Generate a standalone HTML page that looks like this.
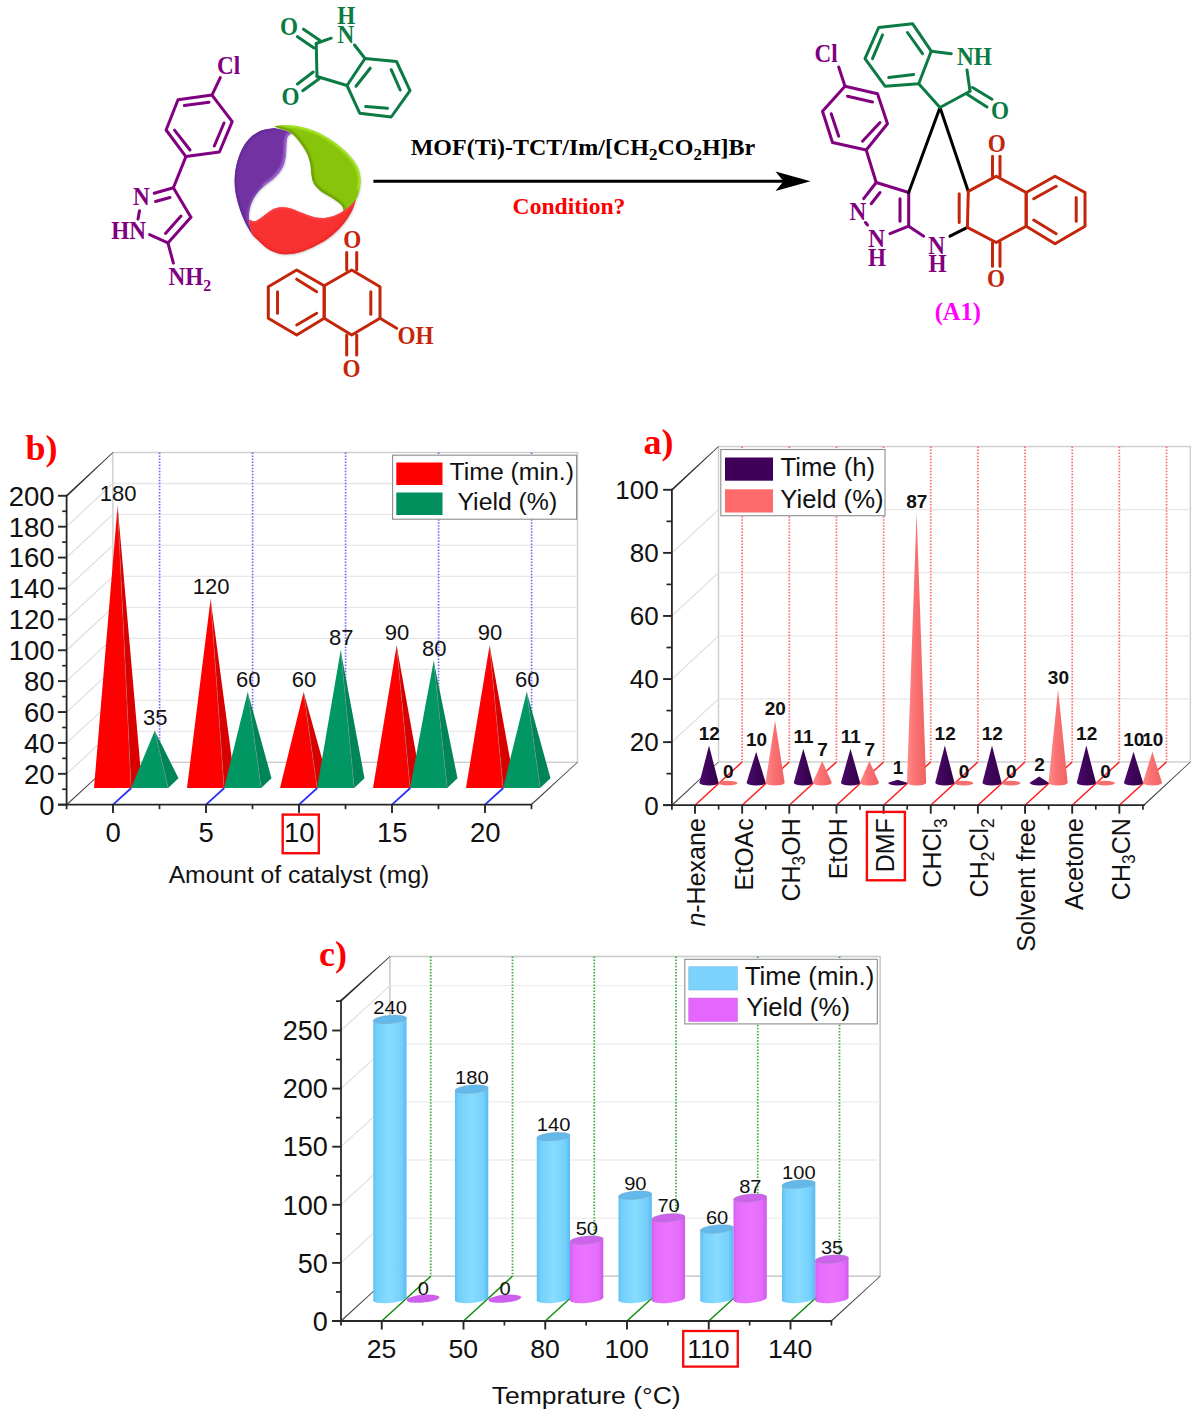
<!DOCTYPE html>
<html><head><meta charset="utf-8"><title>Figure</title>
<style>
html,body{margin:0;padding:0;background:#fff;}
body{width:1200px;height:1416px;overflow:hidden;font-family:"Liberation Sans",sans-serif;}
svg{display:block;}
</style></head><body>
<svg width="1200" height="1416" viewBox="0 0 1200 1416">
<rect width="1200" height="1416" fill="#fff"/>
<g id="scheme">
<polygon points="212.00,95.10 178.00,99.70 166.10,130.00 185.90,156.60 219.40,152.00 232.20,121.70" fill="none" stroke="#800080" stroke-width="3.0" stroke-linejoin="round" stroke-linecap="round" />
<line x1="184.30" y1="105.50" x2="209.00" y2="102.20" stroke="#800080" stroke-width="3.0" stroke-linecap="round"/>
<line x1="174.50" y1="130.20" x2="190.00" y2="150.00" stroke="#800080" stroke-width="3.0" stroke-linecap="round"/>
<line x1="224.00" y1="123.00" x2="214.30" y2="146.00" stroke="#800080" stroke-width="3.0" stroke-linecap="round"/>
<line x1="212.00" y1="95.10" x2="220.30" y2="77.60" stroke="#800080" stroke-width="3.0" stroke-linecap="round"/>
<line x1="185.90" y1="156.60" x2="173.40" y2="187.80" stroke="#800080" stroke-width="3.0" stroke-linecap="round"/>
<line x1="173.40" y1="187.80" x2="190.90" y2="217.20" stroke="#800080" stroke-width="3.0" stroke-linecap="round"/>
<line x1="190.90" y1="217.20" x2="167.90" y2="242.90" stroke="#800080" stroke-width="3.0" stroke-linecap="round"/>
<line x1="167.90" y1="242.90" x2="149.60" y2="234.60" stroke="#800080" stroke-width="3.0" stroke-linecap="round"/>
<line x1="173.40" y1="187.80" x2="154.20" y2="193.30" stroke="#800080" stroke-width="3.0" stroke-linecap="round"/>
<line x1="155.50" y1="201.50" x2="170.00" y2="197.50" stroke="#800080" stroke-width="3.0" stroke-linecap="round"/>
<line x1="181.00" y1="216.00" x2="165.50" y2="233.50" stroke="#800080" stroke-width="3.0" stroke-linecap="round"/>
<line x1="139.50" y1="210.80" x2="138.00" y2="219.00" stroke="#800080" stroke-width="3.0" stroke-linecap="round"/>
<line x1="167.90" y1="242.90" x2="173.40" y2="263.10" stroke="#800080" stroke-width="3.0" stroke-linecap="round"/>
<text x="0.00" y="0.00" font-family="Liberation Serif, serif" font-size="24.8" font-weight="bold" fill="#800080" text-anchor="start"  transform="translate(217.00 74.00) scale(0.935 1)">Cl</text>
<text x="0.00" y="0.00" font-family="Liberation Serif, serif" font-size="24.8" font-weight="bold" fill="#800080" text-anchor="start"  transform="translate(133.00 205.30) scale(0.935 1)">N</text>
<text x="0.00" y="0.00" font-family="Liberation Serif, serif" font-size="24.8" font-weight="bold" fill="#800080" text-anchor="start"  transform="translate(111.30 239.20) scale(0.935 1)">HN</text>
<text x="0.00" y="0.00" font-family="Liberation Serif, serif" font-size="24.8" font-weight="bold" fill="#800080" text-anchor="start"  transform="translate(168.50 284.50) scale(0.935 1)">NH<tspan font-size="17" dy="6">2</tspan></text>
<polygon points="365.00,58.50 396.50,61.50 410.00,90.70 391.20,117.00 359.70,113.20 347.00,85.50" fill="none" stroke="#0B7A43" stroke-width="3.0" stroke-linejoin="round" stroke-linecap="round" />
<line x1="370.20" y1="68.20" x2="356.00" y2="86.20" stroke="#0B7A43" stroke-width="3.0" stroke-linecap="round"/>
<line x1="391.20" y1="69.70" x2="400.20" y2="90.00" stroke="#0B7A43" stroke-width="3.0" stroke-linecap="round"/>
<line x1="365.70" y1="106.50" x2="387.50" y2="108.30" stroke="#0B7A43" stroke-width="3.0" stroke-linecap="round"/>
<line x1="347.00" y1="85.50" x2="317.00" y2="76.50" stroke="#0B7A43" stroke-width="3.0" stroke-linecap="round"/>
<line x1="317.00" y1="76.50" x2="316.20" y2="43.50" stroke="#0B7A43" stroke-width="3.0" stroke-linecap="round"/>
<line x1="316.20" y1="43.50" x2="331.20" y2="38.20" stroke="#0B7A43" stroke-width="3.0" stroke-linecap="round"/>
<line x1="365.00" y1="58.50" x2="354.50" y2="45.00" stroke="#0B7A43" stroke-width="3.0" stroke-linecap="round"/>
<line x1="320.00" y1="40.50" x2="303.50" y2="29.20" stroke="#0B7A43" stroke-width="3.0" stroke-linecap="round"/>
<line x1="314.00" y1="48.00" x2="297.50" y2="36.70" stroke="#0B7A43" stroke-width="3.0" stroke-linecap="round"/>
<line x1="313.20" y1="72.00" x2="297.50" y2="84.00" stroke="#0B7A43" stroke-width="3.0" stroke-linecap="round"/>
<line x1="319.20" y1="78.70" x2="302.70" y2="90.70" stroke="#0B7A43" stroke-width="3.0" stroke-linecap="round"/>
<text x="0.00" y="0.00" font-family="Liberation Serif, serif" font-size="24.8" font-weight="bold" fill="#0B7A43" text-anchor="start"  transform="translate(337.50 42.50) scale(0.935 1)">N</text>
<text x="0.00" y="0.00" font-family="Liberation Serif, serif" font-size="24.8" font-weight="bold" fill="#0B7A43" text-anchor="start"  transform="translate(337.30 23.80) scale(0.935 1)">H</text>
<text x="0.00" y="0.00" font-family="Liberation Serif, serif" font-size="24.8" font-weight="bold" fill="#0B7A43" text-anchor="start"  transform="translate(280.00 35.00) scale(0.935 1)">O</text>
<text x="0.00" y="0.00" font-family="Liberation Serif, serif" font-size="24.8" font-weight="bold" fill="#0B7A43" text-anchor="start"  transform="translate(281.50 105.00) scale(0.935 1)">O</text>
<polygon points="296.70,270.00 268.30,286.70 268.30,318.30 296.70,335.00 324.20,318.30 324.20,285.80" fill="none" stroke="#C4260C" stroke-width="3.0" stroke-linejoin="round" stroke-linecap="round" />
<polygon points="324.20,285.80 351.70,270.00 380.00,286.70 380.00,318.30 351.70,335.00 324.20,318.30" fill="none" stroke="#C4260C" stroke-width="3.0" stroke-linejoin="round" stroke-linecap="round" />
<line x1="296.70" y1="279.20" x2="316.70" y2="291.70" stroke="#C4260C" stroke-width="3.0" stroke-linecap="round"/>
<line x1="277.50" y1="291.70" x2="277.50" y2="313.30" stroke="#C4260C" stroke-width="3.0" stroke-linecap="round"/>
<line x1="296.70" y1="325.00" x2="316.70" y2="313.30" stroke="#C4260C" stroke-width="3.0" stroke-linecap="round"/>
<line x1="370.80" y1="291.70" x2="370.80" y2="314.20" stroke="#C4260C" stroke-width="3.0" stroke-linecap="round"/>
<line x1="346.70" y1="252.50" x2="346.70" y2="270.00" stroke="#C4260C" stroke-width="3.0" stroke-linecap="round"/>
<line x1="356.70" y1="252.50" x2="356.70" y2="270.00" stroke="#C4260C" stroke-width="3.0" stroke-linecap="round"/>
<line x1="346.70" y1="335.00" x2="346.70" y2="355.00" stroke="#C4260C" stroke-width="3.0" stroke-linecap="round"/>
<line x1="356.70" y1="335.00" x2="356.70" y2="355.00" stroke="#C4260C" stroke-width="3.0" stroke-linecap="round"/>
<line x1="380.00" y1="318.30" x2="396.70" y2="328.30" stroke="#C4260C" stroke-width="3.0" stroke-linecap="round"/>
<text x="0.00" y="0.00" font-family="Liberation Serif, serif" font-size="24.8" font-weight="bold" fill="#C4260C" text-anchor="start"  transform="translate(343.20 248.30) scale(0.935 1)">O</text>
<text x="0.00" y="0.00" font-family="Liberation Serif, serif" font-size="24.8" font-weight="bold" fill="#C4260C" text-anchor="start"  transform="translate(342.60 376.50) scale(0.935 1)">O</text>
<text x="0.00" y="0.00" font-family="Liberation Serif, serif" font-size="24.8" font-weight="bold" fill="#C4260C" text-anchor="start"  transform="translate(397.50 344.00) scale(0.935 1)">OH</text>
<line x1="373.40" y1="181.30" x2="784.00" y2="181.30" stroke="#000" stroke-width="3" />
<polygon points="775.50,171.50 810.50,181.30 775.50,191.10 783.50,181.30" fill="#000" />
<text x="583.00" y="155.30" font-family="Liberation Serif, serif" font-size="24" font-weight="bold" fill="#000" text-anchor="middle" >MOF(Ti)-TCT/Im/[CH<tspan font-size="17" dy="5">2</tspan><tspan dy="-5">CO</tspan><tspan font-size="17" dy="5">2</tspan><tspan dy="-5">H]Br</tspan></text>
<text x="569.00" y="213.80" font-family="Liberation Serif, serif" font-size="23.6" font-weight="bold" fill="#FF0000" text-anchor="middle" >Condition?</text>
<defs>
<filter id="lsh" x="-10%" y="-10%" width="120%" height="120%"><feGaussianBlur stdDeviation="0.9"/></filter>
<filter id="lb1" x="-20%" y="-20%" width="140%" height="140%"><feGaussianBlur stdDeviation="1.0"/></filter>
<clipPath id="cpp"><path d="M274.1,127.9 C275.6,128.2 279.9,128.8 282.8,129.7 C285.7,130.6 290.1,132.6 291.6,133.2 C290.9,133.8 288.4,134.8 287.5,136.7 C286.6,138.6 286.6,141.7 286.3,144.8 C286.0,147.9 286.4,151.6 285.8,155.3 C285.2,159.0 284.7,163.3 282.8,167.0 C280.9,170.7 278.0,174.2 274.7,177.5 C271.4,180.8 266.4,183.5 263.0,186.8 C259.6,190.1 256.5,193.6 254.3,197.3 C252.1,201.0 250.5,205.3 249.6,209.0 C248.7,212.7 248.9,216.4 249.0,219.5 C249.1,222.6 249.5,225.0 250.2,227.7 C250.9,230.4 252.6,234.5 253.1,235.8 C251.8,233.7 247.8,227.8 245.5,223.0 C243.2,218.2 240.8,212.5 239.1,206.7 C237.3,200.9 235.6,194.2 235.0,188.0 C234.4,181.8 234.6,175.3 235.6,169.3 C236.6,163.3 238.6,156.9 240.8,151.8 C243.0,146.8 245.7,142.5 249.0,139.0 C252.3,135.5 256.5,132.7 260.7,130.8 C264.9,129.0 271.9,128.4 274.1,127.9Z"/></clipPath><clipPath id="cpg"><path d="M274.1,126.4 C275.8,126.2 280.0,125.2 284.0,125.2 C288.0,125.2 292.8,125.2 298.0,126.2 C303.2,127.2 309.7,128.9 315.5,131.4 C321.3,133.9 327.6,137.5 333.0,141.3 C338.4,145.1 344.1,149.9 348.2,154.2 C352.3,158.5 355.5,162.9 357.5,167.0 C359.5,171.1 360.1,174.8 360.4,178.7 C360.7,182.6 360.1,186.8 359.3,190.3 C358.5,193.8 357.5,197.0 355.8,199.7 C354.1,202.4 351.4,204.8 349.3,206.7 C347.2,208.5 344.5,210.1 343.5,210.8 C343.2,209.9 343.6,207.6 341.8,205.5 C340.1,203.4 336.4,200.8 333.0,198.5 C329.6,196.2 324.5,194.0 321.3,191.5 C318.1,189.0 315.5,186.2 313.8,183.3 C312.1,180.4 312.0,177.3 311.4,174.0 C310.8,170.7 311.2,167.2 310.3,163.5 C309.4,159.8 308.1,155.5 306.2,151.8 C304.3,148.1 301.6,144.4 299.2,141.3 C296.8,138.2 294.3,135.2 291.6,133.2 C288.9,131.2 285.9,130.4 283.0,129.3 C280.1,128.2 275.6,126.9 274.1,126.4Z"/></clipPath><clipPath id="cpr"><path d="M249.0,219.5 C250.0,219.8 252.7,221.7 254.8,221.3 C256.9,220.9 259.1,219.0 261.8,217.2 C264.5,215.3 268.1,211.8 271.2,210.2 C274.3,208.5 277.2,207.6 280.5,207.3 C283.8,207.0 287.3,207.4 291.0,208.4 C294.7,209.4 298.8,211.6 302.7,213.1 C306.6,214.6 310.4,216.4 314.3,217.2 C318.2,218.0 322.3,218.2 326.0,217.8 C329.7,217.4 333.6,216.0 336.5,214.8 C339.4,213.6 341.2,212.4 343.5,210.8 C345.8,209.2 348.4,207.3 350.5,205.5 C352.6,203.7 354.9,200.7 355.8,199.7 C355.1,201.6 353.9,207.0 351.7,211.3 C349.4,215.6 346.2,220.8 342.3,225.3 C338.4,229.8 333.4,234.5 328.3,238.2 C323.2,241.9 317.4,245.0 312.0,247.5 C306.6,250.0 300.9,252.2 295.7,253.3 C290.4,254.4 285.2,254.7 280.5,253.9 C275.8,253.1 271.4,250.9 267.7,248.7 C264.0,246.5 260.7,242.7 258.3,240.5 C255.9,238.3 254.0,236.6 253.1,235.8 C252.6,234.5 250.9,230.4 250.2,227.7 C249.5,225.0 249.2,220.9 249.0,219.5Z"/></clipPath></defs>
<g>
<g opacity="0.28" filter="url(#lsh)" transform="translate(0.6,0.9)"><path d="M274.1,127.9 C275.6,128.2 279.9,128.8 282.8,129.7 C285.7,130.6 290.1,132.6 291.6,133.2 C290.9,133.8 288.4,134.8 287.5,136.7 C286.6,138.6 286.6,141.7 286.3,144.8 C286.0,147.9 286.4,151.6 285.8,155.3 C285.2,159.0 284.7,163.3 282.8,167.0 C280.9,170.7 278.0,174.2 274.7,177.5 C271.4,180.8 266.4,183.5 263.0,186.8 C259.6,190.1 256.5,193.6 254.3,197.3 C252.1,201.0 250.5,205.3 249.6,209.0 C248.7,212.7 248.9,216.4 249.0,219.5 C249.1,222.6 249.5,225.0 250.2,227.7 C250.9,230.4 252.6,234.5 253.1,235.8 C251.8,233.7 247.8,227.8 245.5,223.0 C243.2,218.2 240.8,212.5 239.1,206.7 C237.3,200.9 235.6,194.2 235.0,188.0 C234.4,181.8 234.6,175.3 235.6,169.3 C236.6,163.3 238.6,156.9 240.8,151.8 C243.0,146.8 245.7,142.5 249.0,139.0 C252.3,135.5 256.5,132.7 260.7,130.8 C264.9,129.0 271.9,128.4 274.1,127.9Z" fill="#303030"/><path d="M274.1,126.4 C275.8,126.2 280.0,125.2 284.0,125.2 C288.0,125.2 292.8,125.2 298.0,126.2 C303.2,127.2 309.7,128.9 315.5,131.4 C321.3,133.9 327.6,137.5 333.0,141.3 C338.4,145.1 344.1,149.9 348.2,154.2 C352.3,158.5 355.5,162.9 357.5,167.0 C359.5,171.1 360.1,174.8 360.4,178.7 C360.7,182.6 360.1,186.8 359.3,190.3 C358.5,193.8 357.5,197.0 355.8,199.7 C354.1,202.4 351.4,204.8 349.3,206.7 C347.2,208.5 344.5,210.1 343.5,210.8 C343.2,209.9 343.6,207.6 341.8,205.5 C340.1,203.4 336.4,200.8 333.0,198.5 C329.6,196.2 324.5,194.0 321.3,191.5 C318.1,189.0 315.5,186.2 313.8,183.3 C312.1,180.4 312.0,177.3 311.4,174.0 C310.8,170.7 311.2,167.2 310.3,163.5 C309.4,159.8 308.1,155.5 306.2,151.8 C304.3,148.1 301.6,144.4 299.2,141.3 C296.8,138.2 294.3,135.2 291.6,133.2 C288.9,131.2 285.9,130.4 283.0,129.3 C280.1,128.2 275.6,126.9 274.1,126.4Z" fill="#303030"/><path d="M249.0,219.5 C250.0,219.8 252.7,221.7 254.8,221.3 C256.9,220.9 259.1,219.0 261.8,217.2 C264.5,215.3 268.1,211.8 271.2,210.2 C274.3,208.5 277.2,207.6 280.5,207.3 C283.8,207.0 287.3,207.4 291.0,208.4 C294.7,209.4 298.8,211.6 302.7,213.1 C306.6,214.6 310.4,216.4 314.3,217.2 C318.2,218.0 322.3,218.2 326.0,217.8 C329.7,217.4 333.6,216.0 336.5,214.8 C339.4,213.6 341.2,212.4 343.5,210.8 C345.8,209.2 348.4,207.3 350.5,205.5 C352.6,203.7 354.9,200.7 355.8,199.7 C355.1,201.6 353.9,207.0 351.7,211.3 C349.4,215.6 346.2,220.8 342.3,225.3 C338.4,229.8 333.4,234.5 328.3,238.2 C323.2,241.9 317.4,245.0 312.0,247.5 C306.6,250.0 300.9,252.2 295.7,253.3 C290.4,254.4 285.2,254.7 280.5,253.9 C275.8,253.1 271.4,250.9 267.7,248.7 C264.0,246.5 260.7,242.7 258.3,240.5 C255.9,238.3 254.0,236.6 253.1,235.8 C252.6,234.5 250.9,230.4 250.2,227.7 C249.5,225.0 249.2,220.9 249.0,219.5Z" fill="#303030"/></g>
<path d="M274.1,127.9 C275.6,128.2 279.9,128.8 282.8,129.7 C285.7,130.6 290.1,132.6 291.6,133.2 C290.9,133.8 288.4,134.8 287.5,136.7 C286.6,138.6 286.6,141.7 286.3,144.8 C286.0,147.9 286.4,151.6 285.8,155.3 C285.2,159.0 284.7,163.3 282.8,167.0 C280.9,170.7 278.0,174.2 274.7,177.5 C271.4,180.8 266.4,183.5 263.0,186.8 C259.6,190.1 256.5,193.6 254.3,197.3 C252.1,201.0 250.5,205.3 249.6,209.0 C248.7,212.7 248.9,216.4 249.0,219.5 C249.1,222.6 249.5,225.0 250.2,227.7 C250.9,230.4 252.6,234.5 253.1,235.8 C251.8,233.7 247.8,227.8 245.5,223.0 C243.2,218.2 240.8,212.5 239.1,206.7 C237.3,200.9 235.6,194.2 235.0,188.0 C234.4,181.8 234.6,175.3 235.6,169.3 C236.6,163.3 238.6,156.9 240.8,151.8 C243.0,146.8 245.7,142.5 249.0,139.0 C252.3,135.5 256.5,132.7 260.7,130.8 C264.9,129.0 271.9,128.4 274.1,127.9Z" fill="#7232a2"/>
<g clip-path="url(#cpp)"><path d="M291.6,133.2 C290.9,133.8 288.4,134.8 287.5,136.7 C286.6,138.6 286.6,141.7 286.3,144.8 C286.0,147.9 286.4,151.6 285.8,155.3 C285.2,159.0 284.7,163.3 282.8,167.0 C280.9,170.7 278.0,174.2 274.7,177.5 C271.4,180.8 264.9,185.2 263.0,186.8" fill="none" stroke="#a068d6" stroke-width="4.5" filter="url(#lb1)"/><path d="M263.0,186.8 C261.6,188.6 256.5,193.6 254.3,197.3 C252.1,201.0 250.5,205.3 249.6,209.0 C248.7,212.7 248.9,216.4 249.0,219.5 C249.1,222.6 249.5,225.0 250.2,227.7 C250.9,230.4 252.6,234.5 253.1,235.8" fill="none" stroke="#8a50c0" stroke-width="3" filter="url(#lb1)"/><path d="M253.1,235.8 C251.8,233.7 247.8,227.8 245.5,223.0 C243.2,218.2 240.8,212.5 239.1,206.7 C237.3,200.9 235.6,194.2 235.0,188.0 C234.4,181.8 234.6,175.3 235.6,169.3 C236.6,163.3 238.6,156.9 240.8,151.8 C243.0,146.8 245.7,142.5 249.0,139.0 C252.3,135.5 256.5,132.7 260.7,130.8 C264.9,129.0 271.9,128.4 274.1,127.9" fill="none" stroke="#5e2590" stroke-width="3" filter="url(#lb1)"/></g>
<path d="M274.1,126.4 C275.8,126.2 280.0,125.2 284.0,125.2 C288.0,125.2 292.8,125.2 298.0,126.2 C303.2,127.2 309.7,128.9 315.5,131.4 C321.3,133.9 327.6,137.5 333.0,141.3 C338.4,145.1 344.1,149.9 348.2,154.2 C352.3,158.5 355.5,162.9 357.5,167.0 C359.5,171.1 360.1,174.8 360.4,178.7 C360.7,182.6 360.1,186.8 359.3,190.3 C358.5,193.8 357.5,197.0 355.8,199.7 C354.1,202.4 351.4,204.8 349.3,206.7 C347.2,208.5 344.5,210.1 343.5,210.8 C343.2,209.9 343.6,207.6 341.8,205.5 C340.1,203.4 336.4,200.8 333.0,198.5 C329.6,196.2 324.5,194.0 321.3,191.5 C318.1,189.0 315.5,186.2 313.8,183.3 C312.1,180.4 312.0,177.3 311.4,174.0 C310.8,170.7 311.2,167.2 310.3,163.5 C309.4,159.8 308.1,155.5 306.2,151.8 C304.3,148.1 301.6,144.4 299.2,141.3 C296.8,138.2 294.3,135.2 291.6,133.2 C288.9,131.2 285.9,130.4 283.0,129.3 C280.1,128.2 275.6,126.9 274.1,126.4Z" fill="#88c50a"/>
<g clip-path="url(#cpg)"><path d="M274.1,126.4 C275.8,126.2 280.0,125.2 284.0,125.2 C288.0,125.2 292.8,125.2 298.0,126.2 C303.2,127.2 309.7,128.9 315.5,131.4 C321.3,133.9 327.6,137.5 333.0,141.3 C338.4,145.1 344.1,149.9 348.2,154.2 C352.3,158.5 355.5,162.9 357.5,167.0 C359.5,171.1 360.1,174.8 360.4,178.7 C360.7,182.6 359.5,188.4 359.3,190.3" fill="none" stroke="#a8ea2a" stroke-width="4" filter="url(#lb1)"/><path d="M343.5,210.8 C343.2,209.9 343.6,207.6 341.8,205.5 C340.1,203.4 336.4,200.8 333.0,198.5 C329.6,196.2 324.5,194.0 321.3,191.5 C318.1,189.0 315.5,186.2 313.8,183.3 C312.1,180.4 312.0,177.3 311.4,174.0 C310.8,170.7 311.2,167.2 310.3,163.5 C309.4,159.8 308.1,155.5 306.2,151.8 C304.3,148.1 301.6,144.4 299.2,141.3 C296.8,138.2 294.3,135.2 291.6,133.2 C288.9,131.2 285.9,130.4 283.0,129.3 C280.1,128.2 275.6,126.9 274.1,126.4" fill="none" stroke="#6a9c04" stroke-width="4.5" filter="url(#lb1)"/></g>
<path d="M249.0,219.5 C250.0,219.8 252.7,221.7 254.8,221.3 C256.9,220.9 259.1,219.0 261.8,217.2 C264.5,215.3 268.1,211.8 271.2,210.2 C274.3,208.5 277.2,207.6 280.5,207.3 C283.8,207.0 287.3,207.4 291.0,208.4 C294.7,209.4 298.8,211.6 302.7,213.1 C306.6,214.6 310.4,216.4 314.3,217.2 C318.2,218.0 322.3,218.2 326.0,217.8 C329.7,217.4 333.6,216.0 336.5,214.8 C339.4,213.6 341.2,212.4 343.5,210.8 C345.8,209.2 348.4,207.3 350.5,205.5 C352.6,203.7 354.9,200.7 355.8,199.7 C355.1,201.6 353.9,207.0 351.7,211.3 C349.4,215.6 346.2,220.8 342.3,225.3 C338.4,229.8 333.4,234.5 328.3,238.2 C323.2,241.9 317.4,245.0 312.0,247.5 C306.6,250.0 300.9,252.2 295.7,253.3 C290.4,254.4 285.2,254.7 280.5,253.9 C275.8,253.1 271.4,250.9 267.7,248.7 C264.0,246.5 260.7,242.7 258.3,240.5 C255.9,238.3 254.0,236.6 253.1,235.8 C252.6,234.5 250.9,230.4 250.2,227.7 C249.5,225.0 249.2,220.9 249.0,219.5Z" fill="#f83131"/>
<g clip-path="url(#cpr)"><path d="M355.8,199.7 C355.1,201.6 353.9,207.0 351.7,211.3 C349.4,215.6 346.2,220.8 342.3,225.3 C338.4,229.8 333.4,234.5 328.3,238.2 C323.2,241.9 317.4,245.0 312.0,247.5 C306.6,250.0 300.9,252.2 295.7,253.3 C290.4,254.4 285.2,254.7 280.5,253.9 C275.8,253.1 271.4,250.9 267.7,248.7 C264.0,246.5 260.7,242.7 258.3,240.5 C255.9,238.3 254.0,236.6 253.1,235.8" fill="none" stroke="#e82626" stroke-width="3" filter="url(#lb1)"/><path d="M249.0,219.5 C250.0,219.8 252.7,221.7 254.8,221.3 C256.9,220.9 259.1,219.0 261.8,217.2 C264.5,215.3 268.1,211.8 271.2,210.2 C274.3,208.5 277.2,207.6 280.5,207.3 C283.8,207.0 287.3,207.4 291.0,208.4 C294.7,209.4 298.8,211.6 302.7,213.1 C306.6,214.6 310.4,216.4 314.3,217.2 C318.2,218.0 322.3,218.2 326.0,217.8 C329.7,217.4 333.6,216.0 336.5,214.8 C339.4,213.6 341.2,212.4 343.5,210.8 C345.8,209.2 348.4,207.3 350.5,205.5 C352.6,203.7 354.9,200.7 355.8,199.7" fill="none" stroke="#ff4a4a" stroke-width="2.5" filter="url(#lb1)"/></g>
</g>
</g>
<g id="product">
<polygon points="845.00,86.20 877.50,93.70 887.50,123.70 866.20,150.00 832.50,142.50 822.50,111.20" fill="none" stroke="#800080" stroke-width="3.0" stroke-linejoin="round" stroke-linecap="round" />
<line x1="847.50" y1="96.20" x2="872.50" y2="102.00" stroke="#800080" stroke-width="3.0" stroke-linecap="round"/>
<line x1="831.20" y1="113.70" x2="838.70" y2="136.20" stroke="#800080" stroke-width="3.0" stroke-linecap="round"/>
<line x1="880.00" y1="122.50" x2="862.50" y2="141.20" stroke="#800080" stroke-width="3.0" stroke-linecap="round"/>
<line x1="838.70" y1="67.00" x2="845.00" y2="86.20" stroke="#800080" stroke-width="3.0" stroke-linecap="round"/>
<line x1="866.20" y1="150.00" x2="876.20" y2="182.50" stroke="#800080" stroke-width="3.0" stroke-linecap="round"/>
<line x1="876.20" y1="182.50" x2="908.70" y2="192.50" stroke="#800080" stroke-width="3.0" stroke-linecap="round"/>
<line x1="908.70" y1="192.50" x2="908.70" y2="226.20" stroke="#800080" stroke-width="3.0" stroke-linecap="round"/>
<line x1="908.70" y1="226.20" x2="890.00" y2="233.70" stroke="#800080" stroke-width="3.0" stroke-linecap="round"/>
<line x1="876.20" y1="182.50" x2="863.70" y2="198.70" stroke="#800080" stroke-width="3.0" stroke-linecap="round"/>
<line x1="880.00" y1="192.50" x2="871.20" y2="203.70" stroke="#800080" stroke-width="3.0" stroke-linecap="round"/>
<line x1="900.00" y1="198.70" x2="900.00" y2="221.20" stroke="#800080" stroke-width="3.0" stroke-linecap="round"/>
<line x1="865.50" y1="222.50" x2="867.50" y2="225.00" stroke="#800080" stroke-width="3.0" stroke-linecap="round"/>
<line x1="908.70" y1="226.20" x2="923.70" y2="236.20" stroke="#800080" stroke-width="3.0" stroke-linecap="round"/>
<text x="0.00" y="0.00" font-family="Liberation Serif, serif" font-size="24.8" font-weight="bold" fill="#800080" text-anchor="start"  transform="translate(814.50 62.30) scale(0.935 1)">Cl</text>
<text x="0.00" y="0.00" font-family="Liberation Serif, serif" font-size="24.8" font-weight="bold" fill="#800080" text-anchor="start"  transform="translate(849.50 219.80) scale(0.935 1)">N</text>
<text x="0.00" y="0.00" font-family="Liberation Serif, serif" font-size="24.8" font-weight="bold" fill="#800080" text-anchor="start"  transform="translate(868.30 247.30) scale(0.935 1)">N</text>
<text x="0.00" y="0.00" font-family="Liberation Serif, serif" font-size="24.8" font-weight="bold" fill="#800080" text-anchor="start"  transform="translate(868.00 266.00) scale(0.935 1)">H</text>
<text x="0.00" y="0.00" font-family="Liberation Serif, serif" font-size="24.8" font-weight="bold" fill="#800080" text-anchor="start"  transform="translate(928.30 253.50) scale(0.935 1)">N</text>
<text x="0.00" y="0.00" font-family="Liberation Serif, serif" font-size="24.8" font-weight="bold" fill="#800080" text-anchor="start"  transform="translate(928.50 272.30) scale(0.935 1)">H</text>
<line x1="940.00" y1="107.50" x2="908.70" y2="192.50" stroke="#000" stroke-width="3.0" stroke-linecap="round"/>
<line x1="940.00" y1="107.50" x2="968.30" y2="191.40" stroke="#000" stroke-width="3.0" stroke-linecap="round"/>
<line x1="950.00" y1="236.20" x2="967.40" y2="227.30" stroke="#000" stroke-width="3.0" stroke-linecap="round"/>
<polygon points="931.20,51.20 912.50,23.70 878.70,27.50 865.00,58.70 885.00,86.20 918.70,83.70" fill="none" stroke="#0B7A43" stroke-width="3.0" stroke-linejoin="round" stroke-linecap="round" />
<line x1="882.50" y1="35.00" x2="872.50" y2="58.70" stroke="#0B7A43" stroke-width="3.0" stroke-linecap="round"/>
<line x1="907.50" y1="32.50" x2="922.50" y2="53.70" stroke="#0B7A43" stroke-width="3.0" stroke-linecap="round"/>
<line x1="888.70" y1="77.50" x2="913.70" y2="74.50" stroke="#0B7A43" stroke-width="3.0" stroke-linecap="round"/>
<line x1="918.70" y1="83.70" x2="940.00" y2="107.50" stroke="#0B7A43" stroke-width="3.0" stroke-linecap="round"/>
<line x1="940.00" y1="107.50" x2="970.00" y2="91.20" stroke="#0B7A43" stroke-width="3.0" stroke-linecap="round"/>
<line x1="970.00" y1="91.20" x2="967.00" y2="70.00" stroke="#0B7A43" stroke-width="3.0" stroke-linecap="round"/>
<line x1="931.20" y1="51.20" x2="951.20" y2="53.70" stroke="#0B7A43" stroke-width="3.0" stroke-linecap="round"/>
<line x1="972.50" y1="87.50" x2="992.00" y2="99.20" stroke="#0B7A43" stroke-width="3.0" stroke-linecap="round"/>
<line x1="967.50" y1="94.50" x2="987.00" y2="107.00" stroke="#0B7A43" stroke-width="3.0" stroke-linecap="round"/>
<text x="0.00" y="0.00" font-family="Liberation Serif, serif" font-size="24.8" font-weight="bold" fill="#0B7A43" text-anchor="start"  transform="translate(957.00 64.80) scale(0.935 1)">NH</text>
<text x="0.00" y="0.00" font-family="Liberation Serif, serif" font-size="24.8" font-weight="bold" fill="#0B7A43" text-anchor="start"  transform="translate(991.00 118.50) scale(0.935 1)">O</text>
<polygon points="968.30,191.40 996.20,176.20 1026.20,192.50 1026.20,226.20 996.20,242.50 967.40,227.30" fill="none" stroke="#C4260C" stroke-width="3.0" stroke-linejoin="round" stroke-linecap="round" />
<polygon points="1026.20,192.50 1055.00,176.20 1085.00,192.50 1085.00,226.20 1055.00,243.70 1026.20,226.20" fill="none" stroke="#C4260C" stroke-width="3.0" stroke-linejoin="round" stroke-linecap="round" />
<line x1="959.20" y1="193.70" x2="959.20" y2="222.50" stroke="#C4260C" stroke-width="3.0" stroke-linecap="round"/>
<line x1="992.50" y1="156.20" x2="992.50" y2="176.20" stroke="#C4260C" stroke-width="3.0" stroke-linecap="round"/>
<line x1="1000.00" y1="156.20" x2="1000.00" y2="176.20" stroke="#C4260C" stroke-width="3.0" stroke-linecap="round"/>
<line x1="992.50" y1="242.50" x2="992.50" y2="266.20" stroke="#C4260C" stroke-width="3.0" stroke-linecap="round"/>
<line x1="1000.00" y1="242.50" x2="1000.00" y2="266.20" stroke="#C4260C" stroke-width="3.0" stroke-linecap="round"/>
<line x1="1033.70" y1="198.70" x2="1056.20" y2="186.20" stroke="#C4260C" stroke-width="3.0" stroke-linecap="round"/>
<line x1="1076.20" y1="197.50" x2="1076.20" y2="221.20" stroke="#C4260C" stroke-width="3.0" stroke-linecap="round"/>
<line x1="1033.70" y1="220.00" x2="1056.20" y2="233.70" stroke="#C4260C" stroke-width="3.0" stroke-linecap="round"/>
<text x="0.00" y="0.00" font-family="Liberation Serif, serif" font-size="24.8" font-weight="bold" fill="#C4260C" text-anchor="start"  transform="translate(987.70 152.30) scale(0.935 1)">O</text>
<text x="0.00" y="0.00" font-family="Liberation Serif, serif" font-size="24.8" font-weight="bold" fill="#C4260C" text-anchor="start"  transform="translate(987.00 287.30) scale(0.935 1)">O</text>
<text x="957.80" y="319.80" font-family="Liberation Serif, serif" font-size="24.5" font-weight="bold" fill="#FF00FF" text-anchor="middle" >(A1)</text>
</g>
<g id="chartb">
<rect x="112.90" y="452.50" width="464.60" height="309.80" fill="#fff" stroke="#cdcdcd" stroke-width="1.4"/>
<line x1="112.90" y1="731.32" x2="577.50" y2="731.32" stroke="#e7e7e7" stroke-width="1.3" />
<line x1="66.60" y1="773.81" x2="112.90" y2="731.32" stroke="#dcdcdc" stroke-width="1.1" />
<line x1="112.90" y1="700.34" x2="577.50" y2="700.34" stroke="#e7e7e7" stroke-width="1.3" />
<line x1="66.60" y1="742.92" x2="112.90" y2="700.34" stroke="#dcdcdc" stroke-width="1.1" />
<line x1="112.90" y1="669.36" x2="577.50" y2="669.36" stroke="#e7e7e7" stroke-width="1.3" />
<line x1="66.60" y1="712.03" x2="112.90" y2="669.36" stroke="#dcdcdc" stroke-width="1.1" />
<line x1="112.90" y1="638.38" x2="577.50" y2="638.38" stroke="#e7e7e7" stroke-width="1.3" />
<line x1="66.60" y1="681.14" x2="112.90" y2="638.38" stroke="#dcdcdc" stroke-width="1.1" />
<line x1="112.90" y1="607.40" x2="577.50" y2="607.40" stroke="#e7e7e7" stroke-width="1.3" />
<line x1="66.60" y1="650.25" x2="112.90" y2="607.40" stroke="#dcdcdc" stroke-width="1.1" />
<line x1="112.90" y1="576.42" x2="577.50" y2="576.42" stroke="#e7e7e7" stroke-width="1.3" />
<line x1="66.60" y1="619.36" x2="112.90" y2="576.42" stroke="#dcdcdc" stroke-width="1.1" />
<line x1="112.90" y1="545.44" x2="577.50" y2="545.44" stroke="#e7e7e7" stroke-width="1.3" />
<line x1="66.60" y1="588.47" x2="112.90" y2="545.44" stroke="#dcdcdc" stroke-width="1.1" />
<line x1="112.90" y1="514.46" x2="577.50" y2="514.46" stroke="#e7e7e7" stroke-width="1.3" />
<line x1="66.60" y1="557.58" x2="112.90" y2="514.46" stroke="#dcdcdc" stroke-width="1.1" />
<line x1="112.90" y1="483.48" x2="577.50" y2="483.48" stroke="#e7e7e7" stroke-width="1.3" />
<line x1="66.60" y1="526.69" x2="112.90" y2="483.48" stroke="#dcdcdc" stroke-width="1.1" />
<line x1="159.60" y1="452.50" x2="159.60" y2="762.30" stroke="#6a6aff" stroke-width="1.7" stroke-dasharray="1.5 1.53"/>
<line x1="252.60" y1="452.50" x2="252.60" y2="762.30" stroke="#6a6aff" stroke-width="1.7" stroke-dasharray="1.5 1.53"/>
<line x1="345.60" y1="452.50" x2="345.60" y2="762.30" stroke="#6a6aff" stroke-width="1.7" stroke-dasharray="1.5 1.53"/>
<line x1="438.60" y1="452.50" x2="438.60" y2="762.30" stroke="#6a6aff" stroke-width="1.7" stroke-dasharray="1.5 1.53"/>
<line x1="531.60" y1="452.50" x2="531.60" y2="762.30" stroke="#6a6aff" stroke-width="1.7" stroke-dasharray="1.5 1.53"/>
<polygon points="67.21,496.46 113.17,452.79 112.63,452.21 65.99,495.14" fill="#2c2c2c" />
<polygon points="67.01,805.14 113.14,762.56 112.66,762.04 66.19,804.26" fill="#4a4a4a" />
<polygon points="531.62,805.16 577.74,762.56 577.26,762.04 530.78,804.24" fill="#444" />
<line x1="113.00" y1="804.70" x2="131.30" y2="788.00" stroke="#2a2aff" stroke-width="1.7" />
<line x1="206.00" y1="804.70" x2="224.30" y2="788.00" stroke="#2a2aff" stroke-width="1.7" />
<line x1="299.00" y1="804.70" x2="317.30" y2="788.00" stroke="#2a2aff" stroke-width="1.7" />
<line x1="392.00" y1="804.70" x2="410.30" y2="788.00" stroke="#2a2aff" stroke-width="1.7" />
<line x1="485.00" y1="804.70" x2="503.30" y2="788.00" stroke="#2a2aff" stroke-width="1.7" />
<polygon points="131.10,788.00 141.40,778.20 117.60,506.00" fill="#da0000" />
<polygon points="94.00,788.00 131.10,788.00 117.60,506.00" fill="#ff0000" />
<line x1="131.10" y1="788.00" x2="117.60" y2="506.00" stroke="#8e8e8e" stroke-width="0.7" stroke-opacity="0.6"/>
<polygon points="168.20,788.00 178.50,778.20 154.70,730.75" fill="#00845a" />
<polygon points="131.10,788.00 168.20,788.00 154.70,730.75" fill="#009763" />
<line x1="168.20" y1="788.00" x2="154.70" y2="730.75" stroke="#8e8e8e" stroke-width="0.7" stroke-opacity="0.6"/>
<polygon points="224.10,788.00 234.40,778.20 210.60,599.00" fill="#da0000" />
<polygon points="187.00,788.00 224.10,788.00 210.60,599.00" fill="#ff0000" />
<line x1="224.10" y1="788.00" x2="210.60" y2="599.00" stroke="#8e8e8e" stroke-width="0.7" stroke-opacity="0.6"/>
<polygon points="261.20,788.00 271.50,778.20 247.70,692.00" fill="#00845a" />
<polygon points="224.10,788.00 261.20,788.00 247.70,692.00" fill="#009763" />
<line x1="261.20" y1="788.00" x2="247.70" y2="692.00" stroke="#8e8e8e" stroke-width="0.7" stroke-opacity="0.6"/>
<polygon points="317.10,788.00 327.40,778.20 303.60,692.00" fill="#da0000" />
<polygon points="280.00,788.00 317.10,788.00 303.60,692.00" fill="#ff0000" />
<line x1="317.10" y1="788.00" x2="303.60" y2="692.00" stroke="#8e8e8e" stroke-width="0.7" stroke-opacity="0.6"/>
<polygon points="354.20,788.00 364.50,778.20 340.70,650.15" fill="#00845a" />
<polygon points="317.10,788.00 354.20,788.00 340.70,650.15" fill="#009763" />
<line x1="354.20" y1="788.00" x2="340.70" y2="650.15" stroke="#8e8e8e" stroke-width="0.7" stroke-opacity="0.6"/>
<polygon points="410.10,788.00 420.40,778.20 396.60,645.50" fill="#da0000" />
<polygon points="373.00,788.00 410.10,788.00 396.60,645.50" fill="#ff0000" />
<line x1="410.10" y1="788.00" x2="396.60" y2="645.50" stroke="#8e8e8e" stroke-width="0.7" stroke-opacity="0.6"/>
<polygon points="447.20,788.00 457.50,778.20 433.70,661.00" fill="#00845a" />
<polygon points="410.10,788.00 447.20,788.00 433.70,661.00" fill="#009763" />
<line x1="447.20" y1="788.00" x2="433.70" y2="661.00" stroke="#8e8e8e" stroke-width="0.7" stroke-opacity="0.6"/>
<polygon points="503.10,788.00 513.40,778.20 489.60,645.50" fill="#da0000" />
<polygon points="466.00,788.00 503.10,788.00 489.60,645.50" fill="#ff0000" />
<line x1="503.10" y1="788.00" x2="489.60" y2="645.50" stroke="#8e8e8e" stroke-width="0.7" stroke-opacity="0.6"/>
<polygon points="540.20,788.00 550.50,778.20 526.70,692.00" fill="#00845a" />
<polygon points="503.10,788.00 540.20,788.00 526.70,692.00" fill="#009763" />
<line x1="540.20" y1="788.00" x2="526.70" y2="692.00" stroke="#8e8e8e" stroke-width="0.7" stroke-opacity="0.6"/>
<text x="118.10" y="500.50" font-family="Liberation Sans, sans-serif" font-size="22" font-weight="normal" fill="#111" text-anchor="middle" >180</text>
<text x="155.20" y="725.25" font-family="Liberation Sans, sans-serif" font-size="22" font-weight="normal" fill="#111" text-anchor="middle" >35</text>
<text x="211.10" y="593.50" font-family="Liberation Sans, sans-serif" font-size="22" font-weight="normal" fill="#111" text-anchor="middle" >120</text>
<text x="248.20" y="686.50" font-family="Liberation Sans, sans-serif" font-size="22" font-weight="normal" fill="#111" text-anchor="middle" >60</text>
<text x="304.10" y="686.50" font-family="Liberation Sans, sans-serif" font-size="22" font-weight="normal" fill="#111" text-anchor="middle" >60</text>
<text x="341.20" y="644.65" font-family="Liberation Sans, sans-serif" font-size="22" font-weight="normal" fill="#111" text-anchor="middle" >87</text>
<text x="397.10" y="640.00" font-family="Liberation Sans, sans-serif" font-size="22" font-weight="normal" fill="#111" text-anchor="middle" >90</text>
<text x="434.20" y="655.50" font-family="Liberation Sans, sans-serif" font-size="22" font-weight="normal" fill="#111" text-anchor="middle" >80</text>
<text x="490.10" y="640.00" font-family="Liberation Sans, sans-serif" font-size="22" font-weight="normal" fill="#111" text-anchor="middle" >90</text>
<text x="527.20" y="686.50" font-family="Liberation Sans, sans-serif" font-size="22" font-weight="normal" fill="#111" text-anchor="middle" >60</text>
<line x1="66.60" y1="494.80" x2="66.60" y2="809.20" stroke="#262626" stroke-width="1.8" />
<line x1="58.00" y1="804.70" x2="532.20" y2="804.70" stroke="#262626" stroke-width="1.8" />
<line x1="58.00" y1="804.70" x2="66.60" y2="804.70" stroke="#262626" stroke-width="1.9" />
<text x="54.60" y="814.60" font-family="Liberation Sans, sans-serif" font-size="27.5" font-weight="normal" fill="#111" text-anchor="end" >0</text>
<line x1="62.20" y1="789.25" x2="66.60" y2="789.25" stroke="#262626" stroke-width="1.7" />
<line x1="58.00" y1="773.81" x2="66.60" y2="773.81" stroke="#262626" stroke-width="1.9" />
<text x="54.60" y="783.71" font-family="Liberation Sans, sans-serif" font-size="27.5" font-weight="normal" fill="#111" text-anchor="end" >20</text>
<line x1="62.20" y1="758.37" x2="66.60" y2="758.37" stroke="#262626" stroke-width="1.7" />
<line x1="58.00" y1="742.92" x2="66.60" y2="742.92" stroke="#262626" stroke-width="1.9" />
<text x="54.60" y="752.82" font-family="Liberation Sans, sans-serif" font-size="27.5" font-weight="normal" fill="#111" text-anchor="end" >40</text>
<line x1="62.20" y1="727.48" x2="66.60" y2="727.48" stroke="#262626" stroke-width="1.7" />
<line x1="58.00" y1="712.03" x2="66.60" y2="712.03" stroke="#262626" stroke-width="1.9" />
<text x="54.60" y="721.93" font-family="Liberation Sans, sans-serif" font-size="27.5" font-weight="normal" fill="#111" text-anchor="end" >60</text>
<line x1="62.20" y1="696.59" x2="66.60" y2="696.59" stroke="#262626" stroke-width="1.7" />
<line x1="58.00" y1="681.14" x2="66.60" y2="681.14" stroke="#262626" stroke-width="1.9" />
<text x="54.60" y="691.04" font-family="Liberation Sans, sans-serif" font-size="27.5" font-weight="normal" fill="#111" text-anchor="end" >80</text>
<line x1="62.20" y1="665.70" x2="66.60" y2="665.70" stroke="#262626" stroke-width="1.7" />
<line x1="58.00" y1="650.25" x2="66.60" y2="650.25" stroke="#262626" stroke-width="1.9" />
<text x="54.60" y="660.15" font-family="Liberation Sans, sans-serif" font-size="27.5" font-weight="normal" fill="#111" text-anchor="end" >100</text>
<line x1="62.20" y1="634.81" x2="66.60" y2="634.81" stroke="#262626" stroke-width="1.7" />
<line x1="58.00" y1="619.36" x2="66.60" y2="619.36" stroke="#262626" stroke-width="1.9" />
<text x="54.60" y="629.26" font-family="Liberation Sans, sans-serif" font-size="27.5" font-weight="normal" fill="#111" text-anchor="end" >120</text>
<line x1="62.20" y1="603.91" x2="66.60" y2="603.91" stroke="#262626" stroke-width="1.7" />
<line x1="58.00" y1="588.47" x2="66.60" y2="588.47" stroke="#262626" stroke-width="1.9" />
<text x="54.60" y="598.37" font-family="Liberation Sans, sans-serif" font-size="27.5" font-weight="normal" fill="#111" text-anchor="end" >140</text>
<line x1="62.20" y1="573.02" x2="66.60" y2="573.02" stroke="#262626" stroke-width="1.7" />
<line x1="58.00" y1="557.58" x2="66.60" y2="557.58" stroke="#262626" stroke-width="1.9" />
<text x="54.60" y="567.48" font-family="Liberation Sans, sans-serif" font-size="27.5" font-weight="normal" fill="#111" text-anchor="end" >160</text>
<line x1="62.20" y1="542.13" x2="66.60" y2="542.13" stroke="#262626" stroke-width="1.7" />
<line x1="58.00" y1="526.69" x2="66.60" y2="526.69" stroke="#262626" stroke-width="1.9" />
<text x="54.60" y="536.59" font-family="Liberation Sans, sans-serif" font-size="27.5" font-weight="normal" fill="#111" text-anchor="end" >180</text>
<line x1="62.20" y1="511.25" x2="66.60" y2="511.25" stroke="#262626" stroke-width="1.7" />
<line x1="58.00" y1="495.80" x2="66.60" y2="495.80" stroke="#262626" stroke-width="1.9" />
<text x="54.60" y="505.70" font-family="Liberation Sans, sans-serif" font-size="27.5" font-weight="normal" fill="#111" text-anchor="end" >200</text>
<line x1="113.00" y1="804.70" x2="113.00" y2="813.00" stroke="#262626" stroke-width="1.9" />
<line x1="159.50" y1="804.70" x2="159.50" y2="809.20" stroke="#262626" stroke-width="1.7" />
<text x="113.20" y="842.30" font-family="Liberation Sans, sans-serif" font-size="27.5" font-weight="normal" fill="#111" text-anchor="middle" >0</text>
<line x1="206.00" y1="804.70" x2="206.00" y2="813.00" stroke="#262626" stroke-width="1.9" />
<line x1="252.50" y1="804.70" x2="252.50" y2="809.20" stroke="#262626" stroke-width="1.7" />
<text x="206.20" y="842.30" font-family="Liberation Sans, sans-serif" font-size="27.5" font-weight="normal" fill="#111" text-anchor="middle" >5</text>
<line x1="299.00" y1="804.70" x2="299.00" y2="813.00" stroke="#262626" stroke-width="1.9" />
<line x1="345.50" y1="804.70" x2="345.50" y2="809.20" stroke="#262626" stroke-width="1.7" />
<text x="299.20" y="842.30" font-family="Liberation Sans, sans-serif" font-size="27.5" font-weight="normal" fill="#111" text-anchor="middle" >10</text>
<line x1="392.00" y1="804.70" x2="392.00" y2="813.00" stroke="#262626" stroke-width="1.9" />
<line x1="438.50" y1="804.70" x2="438.50" y2="809.20" stroke="#262626" stroke-width="1.7" />
<text x="392.20" y="842.30" font-family="Liberation Sans, sans-serif" font-size="27.5" font-weight="normal" fill="#111" text-anchor="middle" >15</text>
<line x1="485.00" y1="804.70" x2="485.00" y2="813.00" stroke="#262626" stroke-width="1.9" />
<line x1="531.50" y1="804.70" x2="531.50" y2="809.20" stroke="#262626" stroke-width="1.7" />
<text x="485.20" y="842.30" font-family="Liberation Sans, sans-serif" font-size="27.5" font-weight="normal" fill="#111" text-anchor="middle" >20</text>
<rect x="282.7" y="814.6" width="36.1" height="38.6" fill="none" stroke="#f80808" stroke-width="2.4"/>
<text x="299.00" y="883.00" font-family="Liberation Sans, sans-serif" font-size="24.7" font-weight="normal" fill="#111" text-anchor="middle" >Amount of catalyst (mg)</text>
<rect x="392.6" y="455.2" width="184" height="64" fill="#fff" stroke="#8c8c8c" stroke-width="1.1"/>
<rect x="396.3" y="462.5" width="46.2" height="22.5" fill="#ff0000"/>
<rect x="396.3" y="492.5" width="46.2" height="22.5" fill="#008f5d"/>
<text x="449.50" y="480.00" font-family="Liberation Sans, sans-serif" font-size="24.8" font-weight="normal" fill="#111" text-anchor="start" >Time (min.)</text>
<text x="457.50" y="510.00" font-family="Liberation Sans, sans-serif" font-size="24.8" font-weight="normal" fill="#111" text-anchor="start" >Yield (%)</text>
<text x="25.50" y="459.50" font-family="Liberation Serif, serif" font-size="36" font-weight="bold" fill="#ff0000" text-anchor="start" >b)</text>
</g>
<g id="charta">
<defs>
<linearGradient id="gpk" x1="0" x2="1" y1="0" y2="0"><stop offset="0" stop-color="#ff8a8a"/><stop offset="0.45" stop-color="#fb7070"/><stop offset="1" stop-color="#ee6464"/></linearGradient>
<linearGradient id="gpu" x1="0" x2="1" y1="0" y2="0"><stop offset="0" stop-color="#4b0a6a"/><stop offset="0.5" stop-color="#3d0458"/><stop offset="1" stop-color="#32024a"/></linearGradient>
</defs>
<rect x="718.50" y="446.55" width="471.85" height="315.40" fill="#fff" stroke="#cdcdcd" stroke-width="1.4"/>
<line x1="718.50" y1="698.87" x2="1190.35" y2="698.87" stroke="#e7e7e7" stroke-width="1.3" />
<line x1="671.90" y1="742.12" x2="718.50" y2="698.87" stroke="#dcdcdc" stroke-width="1.1" />
<line x1="718.50" y1="635.79" x2="1190.35" y2="635.79" stroke="#e7e7e7" stroke-width="1.3" />
<line x1="671.90" y1="679.04" x2="718.50" y2="635.79" stroke="#dcdcdc" stroke-width="1.1" />
<line x1="718.50" y1="572.71" x2="1190.35" y2="572.71" stroke="#e7e7e7" stroke-width="1.3" />
<line x1="671.90" y1="615.96" x2="718.50" y2="572.71" stroke="#dcdcdc" stroke-width="1.1" />
<line x1="718.50" y1="509.63" x2="1190.35" y2="509.63" stroke="#e7e7e7" stroke-width="1.3" />
<line x1="671.90" y1="552.88" x2="718.50" y2="509.63" stroke="#dcdcdc" stroke-width="1.1" />
<line x1="742.15" y1="446.55" x2="742.15" y2="761.95" stroke="#ff6a6a" stroke-width="1.7" stroke-dasharray="1.5 1.53"/>
<line x1="789.30" y1="446.55" x2="789.30" y2="761.95" stroke="#ff6a6a" stroke-width="1.7" stroke-dasharray="1.5 1.53"/>
<line x1="836.45" y1="446.55" x2="836.45" y2="761.95" stroke="#ff6a6a" stroke-width="1.7" stroke-dasharray="1.5 1.53"/>
<line x1="883.60" y1="446.55" x2="883.60" y2="761.95" stroke="#ff6a6a" stroke-width="1.7" stroke-dasharray="1.5 1.53"/>
<line x1="930.75" y1="446.55" x2="930.75" y2="761.95" stroke="#ff6a6a" stroke-width="1.7" stroke-dasharray="1.5 1.53"/>
<line x1="977.90" y1="446.55" x2="977.90" y2="761.95" stroke="#ff6a6a" stroke-width="1.7" stroke-dasharray="1.5 1.53"/>
<line x1="1025.05" y1="446.55" x2="1025.05" y2="761.95" stroke="#ff6a6a" stroke-width="1.7" stroke-dasharray="1.5 1.53"/>
<line x1="1072.20" y1="446.55" x2="1072.20" y2="761.95" stroke="#ff6a6a" stroke-width="1.7" stroke-dasharray="1.5 1.53"/>
<line x1="1119.35" y1="446.55" x2="1119.35" y2="761.95" stroke="#ff6a6a" stroke-width="1.7" stroke-dasharray="1.5 1.53"/>
<line x1="1166.50" y1="446.55" x2="1166.50" y2="761.95" stroke="#ff6a6a" stroke-width="1.7" stroke-dasharray="1.5 1.53"/>
<polygon points="672.51,490.46 718.77,446.84 718.23,446.26 671.29,489.14" fill="#2c2c2c" />
<polygon points="672.31,805.64 718.74,762.21 718.26,761.69 671.49,804.76" fill="#4a4a4a" />
<polygon points="1144.18,805.66 1190.59,762.21 1190.11,761.69 1143.32,804.74" fill="#444" />
<line x1="695.00" y1="805.20" x2="742.15" y2="761.95" stroke="#ff1a1a" stroke-width="1.45" />
<line x1="742.15" y1="805.20" x2="789.30" y2="761.95" stroke="#ff1a1a" stroke-width="1.45" />
<line x1="789.30" y1="805.20" x2="836.45" y2="761.95" stroke="#ff1a1a" stroke-width="1.45" />
<line x1="836.45" y1="805.20" x2="883.60" y2="761.95" stroke="#ff1a1a" stroke-width="1.45" />
<line x1="883.60" y1="805.20" x2="930.75" y2="761.95" stroke="#ff1a1a" stroke-width="1.45" />
<line x1="930.75" y1="805.20" x2="977.90" y2="761.95" stroke="#ff1a1a" stroke-width="1.45" />
<line x1="977.90" y1="805.20" x2="1025.05" y2="761.95" stroke="#ff1a1a" stroke-width="1.45" />
<line x1="1025.05" y1="805.20" x2="1072.20" y2="761.95" stroke="#ff1a1a" stroke-width="1.45" />
<line x1="1072.20" y1="805.20" x2="1119.35" y2="761.95" stroke="#ff1a1a" stroke-width="1.45" />
<line x1="1119.35" y1="805.20" x2="1166.50" y2="761.95" stroke="#ff1a1a" stroke-width="1.45" />
<path d="M709.00,745.60 L699.40,782.80 A9.6,2.6 0 0 0 718.60,782.80 Z" fill="url(#gpu)"/>
<ellipse cx="727.90" cy="783.10" rx="9.6" ry="2.4" fill="#f56f6f"/>
<path d="M756.17,751.80 L746.57,782.80 A9.6,2.6 0 0 0 765.77,782.80 Z" fill="url(#gpu)"/>
<path d="M775.07,720.80 L765.47,782.80 A9.6,2.6 0 0 0 784.67,782.80 Z" fill="url(#gpk)"/>
<path d="M803.34,748.70 L793.74,782.80 A9.6,2.6 0 0 0 812.94,782.80 Z" fill="url(#gpu)"/>
<path d="M822.24,761.10 L812.64,782.80 A9.6,2.6 0 0 0 831.84,782.80 Z" fill="url(#gpk)"/>
<path d="M850.51,748.70 L840.91,782.80 A9.6,2.6 0 0 0 860.11,782.80 Z" fill="url(#gpu)"/>
<path d="M869.41,761.10 L859.81,782.80 A9.6,2.6 0 0 0 879.01,782.80 Z" fill="url(#gpk)"/>
<path d="M897.68,779.70 L888.08,782.80 A9.6,2.6 0 0 0 907.28,782.80 Z" fill="url(#gpu)"/>
<path d="M916.58,513.10 L906.98,782.80 A9.6,2.6 0 0 0 926.18,782.80 Z" fill="url(#gpk)"/>
<path d="M944.85,745.60 L935.25,782.80 A9.6,2.6 0 0 0 954.45,782.80 Z" fill="url(#gpu)"/>
<ellipse cx="963.75" cy="783.10" rx="9.6" ry="2.4" fill="#f56f6f"/>
<path d="M992.02,745.60 L982.42,782.80 A9.6,2.6 0 0 0 1001.62,782.80 Z" fill="url(#gpu)"/>
<ellipse cx="1010.92" cy="783.10" rx="9.6" ry="2.4" fill="#f56f6f"/>
<path d="M1039.19,776.60 L1029.59,782.80 A9.6,2.6 0 0 0 1048.79,782.80 Z" fill="url(#gpu)"/>
<path d="M1058.09,689.80 L1048.49,782.80 A9.6,2.6 0 0 0 1067.69,782.80 Z" fill="url(#gpk)"/>
<path d="M1086.36,745.60 L1076.76,782.80 A9.6,2.6 0 0 0 1095.96,782.80 Z" fill="url(#gpu)"/>
<ellipse cx="1105.26" cy="783.10" rx="9.6" ry="2.4" fill="#f56f6f"/>
<path d="M1133.53,751.80 L1123.93,782.80 A9.6,2.6 0 0 0 1143.13,782.80 Z" fill="url(#gpu)"/>
<path d="M1152.43,751.80 L1142.83,782.80 A9.6,2.6 0 0 0 1162.03,782.80 Z" fill="url(#gpk)"/>
<text x="709.30" y="740.00" font-family="Liberation Sans, sans-serif" font-size="19" font-weight="bold" fill="#111" text-anchor="middle" >12</text>
<text x="728.20" y="778.20" font-family="Liberation Sans, sans-serif" font-size="19" font-weight="bold" fill="#111" text-anchor="middle" >0</text>
<text x="756.47" y="746.20" font-family="Liberation Sans, sans-serif" font-size="19" font-weight="bold" fill="#111" text-anchor="middle" >10</text>
<text x="775.37" y="715.20" font-family="Liberation Sans, sans-serif" font-size="19" font-weight="bold" fill="#111" text-anchor="middle" >20</text>
<text x="803.64" y="743.10" font-family="Liberation Sans, sans-serif" font-size="19" font-weight="bold" fill="#111" text-anchor="middle" >11</text>
<text x="822.54" y="755.50" font-family="Liberation Sans, sans-serif" font-size="19" font-weight="bold" fill="#111" text-anchor="middle" >7</text>
<text x="850.81" y="743.10" font-family="Liberation Sans, sans-serif" font-size="19" font-weight="bold" fill="#111" text-anchor="middle" >11</text>
<text x="869.71" y="755.50" font-family="Liberation Sans, sans-serif" font-size="19" font-weight="bold" fill="#111" text-anchor="middle" >7</text>
<text x="897.98" y="774.10" font-family="Liberation Sans, sans-serif" font-size="19" font-weight="bold" fill="#111" text-anchor="middle" >1</text>
<text x="916.88" y="507.50" font-family="Liberation Sans, sans-serif" font-size="19" font-weight="bold" fill="#111" text-anchor="middle" >87</text>
<text x="945.15" y="740.00" font-family="Liberation Sans, sans-serif" font-size="19" font-weight="bold" fill="#111" text-anchor="middle" >12</text>
<text x="964.05" y="778.20" font-family="Liberation Sans, sans-serif" font-size="19" font-weight="bold" fill="#111" text-anchor="middle" >0</text>
<text x="992.32" y="740.00" font-family="Liberation Sans, sans-serif" font-size="19" font-weight="bold" fill="#111" text-anchor="middle" >12</text>
<text x="1011.22" y="778.20" font-family="Liberation Sans, sans-serif" font-size="19" font-weight="bold" fill="#111" text-anchor="middle" >0</text>
<text x="1039.49" y="771.00" font-family="Liberation Sans, sans-serif" font-size="19" font-weight="bold" fill="#111" text-anchor="middle" >2</text>
<text x="1058.39" y="684.20" font-family="Liberation Sans, sans-serif" font-size="19" font-weight="bold" fill="#111" text-anchor="middle" >30</text>
<text x="1086.66" y="740.00" font-family="Liberation Sans, sans-serif" font-size="19" font-weight="bold" fill="#111" text-anchor="middle" >12</text>
<text x="1105.56" y="778.20" font-family="Liberation Sans, sans-serif" font-size="19" font-weight="bold" fill="#111" text-anchor="middle" >0</text>
<text x="1133.83" y="746.20" font-family="Liberation Sans, sans-serif" font-size="19" font-weight="bold" fill="#111" text-anchor="middle" >10</text>
<text x="1152.73" y="746.20" font-family="Liberation Sans, sans-serif" font-size="19" font-weight="bold" fill="#111" text-anchor="middle" >10</text>
<line x1="671.90" y1="488.80" x2="671.90" y2="809.70" stroke="#262626" stroke-width="1.8" />
<line x1="663.10" y1="805.20" x2="1144.75" y2="805.20" stroke="#262626" stroke-width="1.8" />
<line x1="663.10" y1="805.20" x2="671.90" y2="805.20" stroke="#262626" stroke-width="1.9" />
<text x="658.70" y="814.50" font-family="Liberation Sans, sans-serif" font-size="26" font-weight="normal" fill="#111" text-anchor="end" >0</text>
<line x1="666.50" y1="773.66" x2="671.90" y2="773.66" stroke="#262626" stroke-width="1.7" />
<line x1="663.10" y1="742.12" x2="671.90" y2="742.12" stroke="#262626" stroke-width="1.9" />
<text x="658.70" y="751.42" font-family="Liberation Sans, sans-serif" font-size="26" font-weight="normal" fill="#111" text-anchor="end" >20</text>
<line x1="666.50" y1="710.58" x2="671.90" y2="710.58" stroke="#262626" stroke-width="1.7" />
<line x1="663.10" y1="679.04" x2="671.90" y2="679.04" stroke="#262626" stroke-width="1.9" />
<text x="658.70" y="688.34" font-family="Liberation Sans, sans-serif" font-size="26" font-weight="normal" fill="#111" text-anchor="end" >40</text>
<line x1="666.50" y1="647.50" x2="671.90" y2="647.50" stroke="#262626" stroke-width="1.7" />
<line x1="663.10" y1="615.96" x2="671.90" y2="615.96" stroke="#262626" stroke-width="1.9" />
<text x="658.70" y="625.26" font-family="Liberation Sans, sans-serif" font-size="26" font-weight="normal" fill="#111" text-anchor="end" >60</text>
<line x1="666.50" y1="584.42" x2="671.90" y2="584.42" stroke="#262626" stroke-width="1.7" />
<line x1="663.10" y1="552.88" x2="671.90" y2="552.88" stroke="#262626" stroke-width="1.9" />
<text x="658.70" y="562.18" font-family="Liberation Sans, sans-serif" font-size="26" font-weight="normal" fill="#111" text-anchor="end" >80</text>
<line x1="666.50" y1="521.34" x2="671.90" y2="521.34" stroke="#262626" stroke-width="1.7" />
<line x1="663.10" y1="489.80" x2="671.90" y2="489.80" stroke="#262626" stroke-width="1.9" />
<text x="658.70" y="499.10" font-family="Liberation Sans, sans-serif" font-size="26" font-weight="normal" fill="#111" text-anchor="end" >100</text>
<line x1="695.00" y1="805.20" x2="695.00" y2="813.70" stroke="#262626" stroke-width="1.9" />
<line x1="718.60" y1="805.20" x2="718.60" y2="809.70" stroke="#262626" stroke-width="1.7" />
<text x="705.40" y="818.20" font-family="Liberation Sans, sans-serif" font-size="25" font-weight="normal" fill="#111" text-anchor="end" transform="rotate(-90 705.40 818.20)"><tspan font-style="italic">n</tspan>-Hexane</text>
<line x1="742.15" y1="805.20" x2="742.15" y2="813.70" stroke="#262626" stroke-width="1.9" />
<line x1="765.75" y1="805.20" x2="765.75" y2="809.70" stroke="#262626" stroke-width="1.7" />
<text x="752.55" y="818.20" font-family="Liberation Sans, sans-serif" font-size="25" font-weight="normal" fill="#111" text-anchor="end" transform="rotate(-90 752.55 818.20)">EtOAc</text>
<line x1="789.30" y1="805.20" x2="789.30" y2="813.70" stroke="#262626" stroke-width="1.9" />
<line x1="812.90" y1="805.20" x2="812.90" y2="809.70" stroke="#262626" stroke-width="1.7" />
<text x="799.70" y="818.20" font-family="Liberation Sans, sans-serif" font-size="25" font-weight="normal" fill="#111" text-anchor="end" transform="rotate(-90 799.70 818.20)">CH<tspan font-size="17.5" dy="5.5">3</tspan><tspan dy="-5.5">OH</tspan></text>
<line x1="836.45" y1="805.20" x2="836.45" y2="813.70" stroke="#262626" stroke-width="1.9" />
<line x1="860.05" y1="805.20" x2="860.05" y2="809.70" stroke="#262626" stroke-width="1.7" />
<text x="846.85" y="818.20" font-family="Liberation Sans, sans-serif" font-size="25" font-weight="normal" fill="#111" text-anchor="end" transform="rotate(-90 846.85 818.20)">EtOH</text>
<line x1="883.60" y1="805.20" x2="883.60" y2="813.70" stroke="#262626" stroke-width="1.9" />
<line x1="907.20" y1="805.20" x2="907.20" y2="809.70" stroke="#262626" stroke-width="1.7" />
<text x="894.00" y="818.20" font-family="Liberation Sans, sans-serif" font-size="25" font-weight="normal" fill="#111" text-anchor="end" transform="rotate(-90 894.00 818.20)">DMF</text>
<line x1="930.75" y1="805.20" x2="930.75" y2="813.70" stroke="#262626" stroke-width="1.9" />
<line x1="954.35" y1="805.20" x2="954.35" y2="809.70" stroke="#262626" stroke-width="1.7" />
<text x="941.15" y="818.20" font-family="Liberation Sans, sans-serif" font-size="25" font-weight="normal" fill="#111" text-anchor="end" transform="rotate(-90 941.15 818.20)">CHCl<tspan font-size="17.5" dy="5.5">3</tspan></text>
<line x1="977.90" y1="805.20" x2="977.90" y2="813.70" stroke="#262626" stroke-width="1.9" />
<line x1="1001.50" y1="805.20" x2="1001.50" y2="809.70" stroke="#262626" stroke-width="1.7" />
<text x="988.30" y="818.20" font-family="Liberation Sans, sans-serif" font-size="25" font-weight="normal" fill="#111" text-anchor="end" transform="rotate(-90 988.30 818.20)">CH<tspan font-size="17.5" dy="5.5">2</tspan><tspan dy="-5.5">Cl</tspan><tspan font-size="17.5" dy="5.5">2</tspan></text>
<line x1="1025.05" y1="805.20" x2="1025.05" y2="813.70" stroke="#262626" stroke-width="1.9" />
<line x1="1048.65" y1="805.20" x2="1048.65" y2="809.70" stroke="#262626" stroke-width="1.7" />
<text x="1035.45" y="818.20" font-family="Liberation Sans, sans-serif" font-size="25" font-weight="normal" fill="#111" text-anchor="end" transform="rotate(-90 1035.45 818.20)">Solvent free</text>
<line x1="1072.20" y1="805.20" x2="1072.20" y2="813.70" stroke="#262626" stroke-width="1.9" />
<line x1="1095.80" y1="805.20" x2="1095.80" y2="809.70" stroke="#262626" stroke-width="1.7" />
<text x="1082.60" y="818.20" font-family="Liberation Sans, sans-serif" font-size="25" font-weight="normal" fill="#111" text-anchor="end" transform="rotate(-90 1082.60 818.20)">Acetone</text>
<line x1="1119.35" y1="805.20" x2="1119.35" y2="813.70" stroke="#262626" stroke-width="1.9" />
<line x1="1142.95" y1="805.20" x2="1142.95" y2="809.70" stroke="#262626" stroke-width="1.7" />
<text x="1129.75" y="818.20" font-family="Liberation Sans, sans-serif" font-size="25" font-weight="normal" fill="#111" text-anchor="end" transform="rotate(-90 1129.75 818.20)">CH<tspan font-size="17.5" dy="5.5">3</tspan><tspan dy="-5.5">CN</tspan></text>
<rect x="866.9" y="811.9" width="38.0" height="68.4" fill="none" stroke="#f80808" stroke-width="2.4"/>
<rect x="720.8" y="449.5" width="164.2" height="66.2" fill="#fff" stroke="#8c8c8c" stroke-width="1.1"/>
<rect x="725" y="457.5" width="48" height="23.2" fill="#40005a"/>
<rect x="725" y="489.3" width="48" height="23.2" fill="#ff6b6b"/>
<text x="780.50" y="475.50" font-family="Liberation Sans, sans-serif" font-size="25.7" font-weight="normal" fill="#111" text-anchor="start" >Time (h)</text>
<text x="780.30" y="507.50" font-family="Liberation Sans, sans-serif" font-size="25.7" font-weight="normal" fill="#111" text-anchor="start" >Yield (%)</text>
<text x="643.50" y="453.80" font-family="Liberation Serif, serif" font-size="36" font-weight="bold" fill="#ff0000" text-anchor="start" >a)</text>
</g>
<g id="chartc">
<defs>
<linearGradient id="gbl" x1="0" x2="1" y1="0" y2="0"><stop offset="0" stop-color="#5cc0f4"/><stop offset="0.12" stop-color="#74d0fb"/><stop offset="0.5" stop-color="#88dcff"/><stop offset="0.85" stop-color="#74d0fb"/><stop offset="1" stop-color="#58baf0"/></linearGradient>
<linearGradient id="gmg" x1="0" x2="1" y1="0" y2="0"><stop offset="0" stop-color="#d45cf0"/><stop offset="0.12" stop-color="#e46cfc"/><stop offset="0.5" stop-color="#eb74ff"/><stop offset="0.85" stop-color="#e46cfc"/><stop offset="1" stop-color="#cf58ea"/></linearGradient>
</defs>
<rect x="389.90" y="956.50" width="490.25" height="319.70" fill="#fff" stroke="#cacaca" stroke-width="1.6"/>
<line x1="389.90" y1="1218.10" x2="880.15" y2="1218.10" stroke="#ededed" stroke-width="1.3" />
<line x1="341.00" y1="1262.90" x2="389.90" y2="1218.10" stroke="#dedede" stroke-width="1.1" />
<line x1="389.90" y1="1160.00" x2="880.15" y2="1160.00" stroke="#ededed" stroke-width="1.3" />
<line x1="341.00" y1="1204.80" x2="389.90" y2="1160.00" stroke="#dedede" stroke-width="1.1" />
<line x1="389.90" y1="1101.90" x2="880.15" y2="1101.90" stroke="#ededed" stroke-width="1.3" />
<line x1="341.00" y1="1146.70" x2="389.90" y2="1101.90" stroke="#dedede" stroke-width="1.1" />
<line x1="389.90" y1="1043.80" x2="880.15" y2="1043.80" stroke="#ededed" stroke-width="1.3" />
<line x1="341.00" y1="1088.60" x2="389.90" y2="1043.80" stroke="#dedede" stroke-width="1.1" />
<line x1="389.90" y1="985.70" x2="880.15" y2="985.70" stroke="#ededed" stroke-width="1.3" />
<line x1="341.00" y1="1030.50" x2="389.90" y2="985.70" stroke="#dedede" stroke-width="1.1" />
<line x1="430.75" y1="956.50" x2="430.75" y2="1276.20" stroke="#3fae3f" stroke-width="1.8" stroke-dasharray="1.5 1.6"/>
<line x1="512.50" y1="956.50" x2="512.50" y2="1276.20" stroke="#3fae3f" stroke-width="1.8" stroke-dasharray="1.5 1.6"/>
<line x1="594.25" y1="956.50" x2="594.25" y2="1276.20" stroke="#3fae3f" stroke-width="1.8" stroke-dasharray="1.5 1.6"/>
<line x1="676.00" y1="956.50" x2="676.00" y2="1276.20" stroke="#3fae3f" stroke-width="1.8" stroke-dasharray="1.5 1.6"/>
<line x1="757.75" y1="956.50" x2="757.75" y2="1276.20" stroke="#3fae3f" stroke-width="1.8" stroke-dasharray="1.5 1.6"/>
<line x1="839.50" y1="956.50" x2="839.50" y2="1276.20" stroke="#3fae3f" stroke-width="1.8" stroke-dasharray="1.5 1.6"/>
<polygon points="341.60,1001.42 390.17,956.80 389.63,956.20 340.40,1000.08" fill="#2c2c2c" />
<polygon points="341.41,1321.44 390.14,1276.46 389.66,1275.94 340.59,1320.56" fill="#4a4a4a" />
<polygon points="831.67,1321.46 880.39,1276.46 879.91,1275.94 830.83,1320.54" fill="#444" />
<line x1="381.75" y1="1321.00" x2="430.75" y2="1276.20" stroke="#0c8c0c" stroke-width="1.45" />
<line x1="463.50" y1="1321.00" x2="512.50" y2="1276.20" stroke="#0c8c0c" stroke-width="1.45" />
<line x1="545.25" y1="1321.00" x2="594.25" y2="1276.20" stroke="#0c8c0c" stroke-width="1.45" />
<line x1="627.00" y1="1321.00" x2="676.00" y2="1276.20" stroke="#0c8c0c" stroke-width="1.45" />
<line x1="708.75" y1="1321.00" x2="757.75" y2="1276.20" stroke="#0c8c0c" stroke-width="1.45" />
<line x1="790.50" y1="1321.00" x2="839.50" y2="1276.20" stroke="#0c8c0c" stroke-width="1.45" />
<path d="M373.25,1020.80 L373.25,1299.6 A16.8,4.1 -5 0 0 406.55,1298.1 L406.55,1017.80 Z" fill="url(#gbl)"/><ellipse cx="389.90" cy="1019.30" rx="16.75" ry="4.1" fill="#62b9ea" stroke="#8aa0a8" stroke-opacity="0.55" stroke-width="0.6" transform="rotate(-5 389.90 1019.30)"/>
<ellipse cx="423.15" cy="1298.7" rx="16.4" ry="3.9" fill="#cf5eee" transform="rotate(-5 423.15 1298.7)"/>
<path d="M455.00,1090.70 L455.00,1299.6 A16.8,4.1 -5 0 0 488.30,1298.1 L488.30,1087.70 Z" fill="url(#gbl)"/><ellipse cx="471.65" cy="1089.20" rx="16.75" ry="4.1" fill="#62b9ea" stroke="#8aa0a8" stroke-opacity="0.55" stroke-width="0.6" transform="rotate(-5 471.65 1089.20)"/>
<ellipse cx="504.90" cy="1298.7" rx="16.4" ry="3.9" fill="#cf5eee" transform="rotate(-5 504.90 1298.7)"/>
<path d="M536.75,1138.10 L536.75,1299.6 A16.8,4.1 -5 0 0 570.05,1298.1 L570.05,1135.10 Z" fill="url(#gbl)"/><ellipse cx="553.40" cy="1136.60" rx="16.75" ry="4.1" fill="#62b9ea" stroke="#8aa0a8" stroke-opacity="0.55" stroke-width="0.6" transform="rotate(-5 553.40 1136.60)"/>
<path d="M570.00,1241.70 L570.00,1299.6 A16.8,4.1 -5 0 0 603.30,1298.1 L603.30,1238.70 Z" fill="url(#gmg)"/><ellipse cx="586.65" cy="1240.20" rx="16.75" ry="4.1" fill="#cc62ea" stroke="#8aa0a8" stroke-opacity="0.55" stroke-width="0.6" transform="rotate(-5 586.65 1240.20)"/>
<path d="M618.50,1196.70 L618.50,1299.6 A16.8,4.1 -5 0 0 651.80,1298.1 L651.80,1193.70 Z" fill="url(#gbl)"/><ellipse cx="635.15" cy="1195.20" rx="16.75" ry="4.1" fill="#62b9ea" stroke="#8aa0a8" stroke-opacity="0.55" stroke-width="0.6" transform="rotate(-5 635.15 1195.20)"/>
<path d="M651.75,1219.30 L651.75,1299.6 A16.8,4.1 -5 0 0 685.05,1298.1 L685.05,1216.30 Z" fill="url(#gmg)"/><ellipse cx="668.40" cy="1217.80" rx="16.75" ry="4.1" fill="#cc62ea" stroke="#8aa0a8" stroke-opacity="0.55" stroke-width="0.6" transform="rotate(-5 668.40 1217.80)"/>
<path d="M700.25,1230.50 L700.25,1299.6 A16.8,4.1 -5 0 0 733.55,1298.1 L733.55,1227.50 Z" fill="url(#gbl)"/><ellipse cx="716.90" cy="1229.00" rx="16.75" ry="4.1" fill="#62b9ea" stroke="#8aa0a8" stroke-opacity="0.55" stroke-width="0.6" transform="rotate(-5 716.90 1229.00)"/>
<path d="M733.50,1199.50 L733.50,1299.6 A16.8,4.1 -5 0 0 766.80,1298.1 L766.80,1196.50 Z" fill="url(#gmg)"/><ellipse cx="750.15" cy="1198.00" rx="16.75" ry="4.1" fill="#cc62ea" stroke="#8aa0a8" stroke-opacity="0.55" stroke-width="0.6" transform="rotate(-5 750.15 1198.00)"/>
<path d="M782.00,1185.70 L782.00,1299.6 A16.8,4.1 -5 0 0 815.30,1298.1 L815.30,1182.70 Z" fill="url(#gbl)"/><ellipse cx="798.65" cy="1184.20" rx="16.75" ry="4.1" fill="#62b9ea" stroke="#8aa0a8" stroke-opacity="0.55" stroke-width="0.6" transform="rotate(-5 798.65 1184.20)"/>
<path d="M815.25,1260.70 L815.25,1299.6 A16.8,4.1 -5 0 0 848.55,1298.1 L848.55,1257.70 Z" fill="url(#gmg)"/><ellipse cx="831.90" cy="1259.20" rx="16.75" ry="4.1" fill="#cc62ea" stroke="#8aa0a8" stroke-opacity="0.55" stroke-width="0.6" transform="rotate(-5 831.90 1259.20)"/>
<text x="0.00" y="0.00" font-family="Liberation Sans, sans-serif" font-size="18.8" font-weight="normal" fill="#111" text-anchor="middle"  transform="translate(390.10 1013.90) scale(1.07 1)">240</text>
<text x="0.00" y="0.00" font-family="Liberation Sans, sans-serif" font-size="18.8" font-weight="normal" fill="#111" text-anchor="middle"  transform="translate(423.35 1294.60) scale(1.07 1)">0</text>
<text x="0.00" y="0.00" font-family="Liberation Sans, sans-serif" font-size="18.8" font-weight="normal" fill="#111" text-anchor="middle"  transform="translate(471.85 1083.80) scale(1.07 1)">180</text>
<text x="0.00" y="0.00" font-family="Liberation Sans, sans-serif" font-size="18.8" font-weight="normal" fill="#111" text-anchor="middle"  transform="translate(505.10 1294.60) scale(1.07 1)">0</text>
<text x="0.00" y="0.00" font-family="Liberation Sans, sans-serif" font-size="18.8" font-weight="normal" fill="#111" text-anchor="middle"  transform="translate(553.60 1131.20) scale(1.07 1)">140</text>
<text x="0.00" y="0.00" font-family="Liberation Sans, sans-serif" font-size="18.8" font-weight="normal" fill="#111" text-anchor="middle"  transform="translate(586.85 1234.80) scale(1.07 1)">50</text>
<text x="0.00" y="0.00" font-family="Liberation Sans, sans-serif" font-size="18.8" font-weight="normal" fill="#111" text-anchor="middle"  transform="translate(635.35 1189.80) scale(1.07 1)">90</text>
<text x="0.00" y="0.00" font-family="Liberation Sans, sans-serif" font-size="18.8" font-weight="normal" fill="#111" text-anchor="middle"  transform="translate(668.60 1212.40) scale(1.07 1)">70</text>
<text x="0.00" y="0.00" font-family="Liberation Sans, sans-serif" font-size="18.8" font-weight="normal" fill="#111" text-anchor="middle"  transform="translate(717.10 1223.60) scale(1.07 1)">60</text>
<text x="0.00" y="0.00" font-family="Liberation Sans, sans-serif" font-size="18.8" font-weight="normal" fill="#111" text-anchor="middle"  transform="translate(750.35 1192.60) scale(1.07 1)">87</text>
<text x="0.00" y="0.00" font-family="Liberation Sans, sans-serif" font-size="18.8" font-weight="normal" fill="#111" text-anchor="middle"  transform="translate(798.85 1178.80) scale(1.07 1)">100</text>
<text x="0.00" y="0.00" font-family="Liberation Sans, sans-serif" font-size="18.8" font-weight="normal" fill="#111" text-anchor="middle"  transform="translate(832.10 1253.80) scale(1.07 1)">35</text>
<line x1="341.00" y1="999.75" x2="341.00" y2="1325.50" stroke="#262626" stroke-width="1.8" />
<line x1="332.20" y1="1321.00" x2="832.25" y2="1321.00" stroke="#262626" stroke-width="1.8" />
<line x1="336.00" y1="1001.15" x2="341.00" y2="1001.15" stroke="#262626" stroke-width="1.7" />
<line x1="332.20" y1="1321.00" x2="341.00" y2="1321.00" stroke="#262626" stroke-width="1.9" />
<text x="327.80" y="1330.70" font-family="Liberation Sans, sans-serif" font-size="27" font-weight="normal" fill="#111" text-anchor="end" >0</text>
<line x1="336.00" y1="1291.95" x2="341.00" y2="1291.95" stroke="#262626" stroke-width="1.7" />
<line x1="332.20" y1="1262.90" x2="341.00" y2="1262.90" stroke="#262626" stroke-width="1.9" />
<text x="327.80" y="1272.60" font-family="Liberation Sans, sans-serif" font-size="27" font-weight="normal" fill="#111" text-anchor="end" >50</text>
<line x1="336.00" y1="1233.85" x2="341.00" y2="1233.85" stroke="#262626" stroke-width="1.7" />
<line x1="332.20" y1="1204.80" x2="341.00" y2="1204.80" stroke="#262626" stroke-width="1.9" />
<text x="327.80" y="1214.50" font-family="Liberation Sans, sans-serif" font-size="27" font-weight="normal" fill="#111" text-anchor="end" >100</text>
<line x1="336.00" y1="1175.75" x2="341.00" y2="1175.75" stroke="#262626" stroke-width="1.7" />
<line x1="332.20" y1="1146.70" x2="341.00" y2="1146.70" stroke="#262626" stroke-width="1.9" />
<text x="327.80" y="1156.40" font-family="Liberation Sans, sans-serif" font-size="27" font-weight="normal" fill="#111" text-anchor="end" >150</text>
<line x1="336.00" y1="1117.65" x2="341.00" y2="1117.65" stroke="#262626" stroke-width="1.7" />
<line x1="332.20" y1="1088.60" x2="341.00" y2="1088.60" stroke="#262626" stroke-width="1.9" />
<text x="327.80" y="1098.30" font-family="Liberation Sans, sans-serif" font-size="27" font-weight="normal" fill="#111" text-anchor="end" >200</text>
<line x1="336.00" y1="1059.55" x2="341.00" y2="1059.55" stroke="#262626" stroke-width="1.7" />
<line x1="332.20" y1="1030.50" x2="341.00" y2="1030.50" stroke="#262626" stroke-width="1.9" />
<text x="327.80" y="1040.20" font-family="Liberation Sans, sans-serif" font-size="27" font-weight="normal" fill="#111" text-anchor="end" >250</text>
<line x1="381.75" y1="1321.00" x2="381.75" y2="1329.50" stroke="#262626" stroke-width="1.9" />
<line x1="422.65" y1="1321.00" x2="422.65" y2="1325.50" stroke="#262626" stroke-width="1.7" />
<text x="381.45" y="1358.20" font-family="Liberation Sans, sans-serif" font-size="26.6" font-weight="normal" fill="#111" text-anchor="middle" >25</text>
<line x1="463.50" y1="1321.00" x2="463.50" y2="1329.50" stroke="#262626" stroke-width="1.9" />
<line x1="504.40" y1="1321.00" x2="504.40" y2="1325.50" stroke="#262626" stroke-width="1.7" />
<text x="463.20" y="1358.20" font-family="Liberation Sans, sans-serif" font-size="26.6" font-weight="normal" fill="#111" text-anchor="middle" >50</text>
<line x1="545.25" y1="1321.00" x2="545.25" y2="1329.50" stroke="#262626" stroke-width="1.9" />
<line x1="586.15" y1="1321.00" x2="586.15" y2="1325.50" stroke="#262626" stroke-width="1.7" />
<text x="544.95" y="1358.20" font-family="Liberation Sans, sans-serif" font-size="26.6" font-weight="normal" fill="#111" text-anchor="middle" >80</text>
<line x1="627.00" y1="1321.00" x2="627.00" y2="1329.50" stroke="#262626" stroke-width="1.9" />
<line x1="667.90" y1="1321.00" x2="667.90" y2="1325.50" stroke="#262626" stroke-width="1.7" />
<text x="626.70" y="1358.20" font-family="Liberation Sans, sans-serif" font-size="26.6" font-weight="normal" fill="#111" text-anchor="middle" >100</text>
<line x1="708.75" y1="1321.00" x2="708.75" y2="1329.50" stroke="#262626" stroke-width="1.9" />
<line x1="749.65" y1="1321.00" x2="749.65" y2="1325.50" stroke="#262626" stroke-width="1.7" />
<text x="708.45" y="1358.20" font-family="Liberation Sans, sans-serif" font-size="26.6" font-weight="normal" fill="#111" text-anchor="middle" >110</text>
<line x1="790.50" y1="1321.00" x2="790.50" y2="1329.50" stroke="#262626" stroke-width="1.9" />
<line x1="831.40" y1="1321.00" x2="831.40" y2="1325.50" stroke="#262626" stroke-width="1.7" />
<text x="790.20" y="1358.20" font-family="Liberation Sans, sans-serif" font-size="26.6" font-weight="normal" fill="#111" text-anchor="middle" >140</text>
<rect x="683.2" y="1331" width="54.6" height="35.6" fill="none" stroke="#f80808" stroke-width="2.3"/>
<text x="0.00" y="0.00" font-family="Liberation Sans, sans-serif" font-size="24.8" font-weight="normal" fill="#111" text-anchor="middle"  transform="translate(586.20 1404.00) scale(1.07 1)">Temprature (°C)</text>
<rect x="684.8" y="959.3" width="192.5" height="64.6" fill="#fff" stroke="#8c8c8c" stroke-width="1.1"/>
<rect x="688.8" y="966.8" width="48.5" height="23.2" fill="#7dd3fc" stroke="#6ab4dc" stroke-width="0.6"/>
<rect x="688.8" y="998.1" width="48.5" height="23.2" fill="#e566ff" stroke="#c458dc" stroke-width="0.6"/>
<text x="744.80" y="984.70" font-family="Liberation Sans, sans-serif" font-size="25.8" font-weight="normal" fill="#111" text-anchor="start" >Time (min.)</text>
<text x="746.30" y="1015.90" font-family="Liberation Sans, sans-serif" font-size="25.8" font-weight="normal" fill="#111" text-anchor="start" >Yield (%)</text>
<text x="319.00" y="965.80" font-family="Liberation Serif, serif" font-size="36" font-weight="bold" fill="#ff0000" text-anchor="start" >c)</text>
</g>
</svg>
</body></html>
